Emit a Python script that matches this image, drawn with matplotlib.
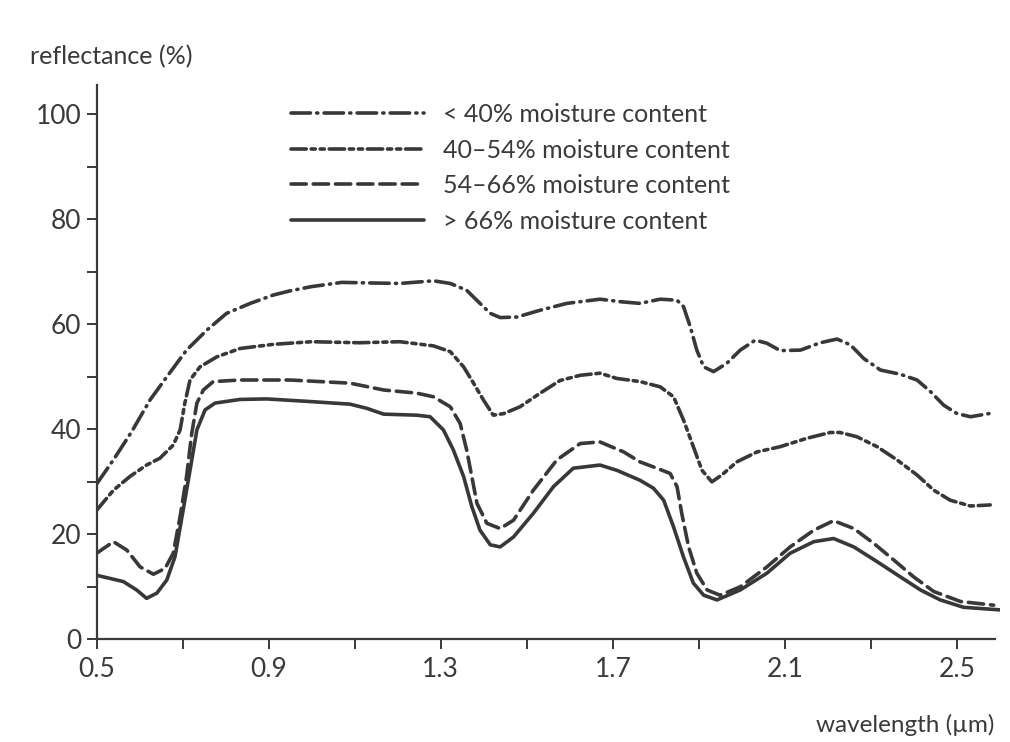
import matplotlib
matplotlib.use("Agg")
import matplotlib.pyplot as plt
from matplotlib.ticker import MultipleLocator, FixedLocator

plt.rcParams["font.family"] = ["Lato", "DejaVu Sans"]
plt.rcParams["lines.scale_dashes"] = False

INK = "#3a3a3a"

labels = [
    "< 40% moisture content",
    "40\u201354% moisture content",
    "54\u201366% moisture content",
    "> 66% moisture content",
]

# wavelength (um) / reflectance (%) for each moisture class
wl_dry = [0.50, 0.539, 0.581, 0.624, 0.663, 0.709, 0.756, 0.802, 0.857, 0.911,
          0.95, 1.00, 1.07, 1.13, 1.205, 1.283, 1.322, 1.36, 1.391, 1.415, 1.438,
          1.477, 1.531, 1.593, 1.67, 1.72, 1.763, 1.81, 1.849, 1.864, 1.88, 1.895,
          1.911, 1.934, 1.965, 1.996, 2.031, 2.058, 2.089, 2.136, 2.182, 2.221,
          2.252, 2.283, 2.322, 2.368, 2.407, 2.438, 2.469, 2.50, 2.531, 2.574]
refl_dry = [29.6, 34.2, 39.5, 45.6, 50.0, 55.1, 58.9, 62.1, 64.0, 65.6,
            66.4, 67.2, 68.0, 67.9, 67.8, 68.3, 67.8, 66.5, 64.0, 62.1, 61.3,
            61.4, 62.7, 64.0, 64.8, 64.3, 64.0, 64.8, 64.6, 63.4, 59.5, 55.1,
            51.9, 51.0, 52.6, 55.1, 57.0, 56.4, 55.0, 55.1, 56.5, 57.2,
            56.1, 53.5, 51.3, 50.5, 49.4, 47.2, 44.6, 43.0, 42.4, 43.0]

wl_low = [0.50, 0.539, 0.577, 0.616, 0.647, 0.678, 0.694, 0.705, 0.717, 0.74,
          0.779, 0.833, 0.911, 1.00, 1.11, 1.205, 1.283, 1.322, 1.353, 1.376,
          1.399, 1.422, 1.446, 1.484, 1.531, 1.577, 1.624, 1.67, 1.709, 1.763,
          1.81, 1.841, 1.864, 1.887, 1.907, 1.93, 1.953, 1.988, 2.035, 2.089,
          2.151, 2.205, 2.228, 2.267, 2.314, 2.36, 2.407, 2.446, 2.484, 2.531,
          2.577]
refl_low = [24.6, 28.4, 31.0, 33.2, 34.5, 37.0, 39.9, 45.0, 49.4, 51.9,
            53.8, 55.4, 56.2, 56.7, 56.5, 56.7, 55.9, 54.8, 51.9, 48.8,
            45.6, 42.7, 43.0, 44.3, 46.9, 49.3, 50.3, 50.7, 49.7, 49.1,
            48.1, 46.2, 41.8, 36.7, 32.2, 30.0, 31.3, 33.8, 35.7, 36.7,
            38.3, 39.4, 39.4, 38.6, 36.7, 34.2, 31.3, 28.4, 26.5, 25.4,
            25.6]

wl_mid = [0.50, 0.539, 0.57, 0.601, 0.632, 0.659, 0.678, 0.694, 0.709, 0.721,
          0.733, 0.748, 0.771, 0.833, 0.95, 1.089, 1.167, 1.244, 1.283, 1.322,
          1.345, 1.36, 1.372, 1.384, 1.407, 1.438, 1.469, 1.515, 1.57, 1.624,
          1.67, 1.725, 1.763, 1.802, 1.833, 1.849, 1.86, 1.876, 1.895, 1.919,
          1.949, 1.996, 2.058, 2.112, 2.167, 2.213, 2.26, 2.306, 2.353, 2.399,
          2.446, 2.508, 2.585]
refl_mid = [16.4, 18.6, 17.0, 13.8, 12.4, 13.5, 16.4, 23.4, 31.0, 39.2,
            45.0, 47.5, 49.1, 49.4, 49.4, 48.8, 47.5, 46.9, 46.2, 44.3,
            41.1, 36.1, 31.0, 25.9, 22.1, 21.1, 22.7, 28.4, 34.2, 37.3,
            37.6, 35.7, 33.8, 32.6, 31.6, 29.1, 24.0, 17.6, 12.6, 9.4,
            8.4, 10.0, 13.8, 17.6, 20.8, 22.6, 21.1, 18.3, 15.1, 11.9,
            9.1, 7.2, 6.5]

wl_wet = [0.50, 0.562, 0.593, 0.616, 0.64, 0.663, 0.682, 0.701, 0.717, 0.733,
          0.752, 0.775, 0.833, 0.895, 0.996, 1.089, 1.128, 1.167, 1.244, 1.275,
          1.306, 1.329, 1.353, 1.372, 1.391, 1.415, 1.438, 1.469, 1.515, 1.562,
          1.608, 1.67, 1.709, 1.763, 1.794, 1.818, 1.841, 1.864, 1.887, 1.911,
          1.942, 1.996, 2.058, 2.112, 2.167, 2.213, 2.26, 2.314, 2.368, 2.415,
          2.461, 2.515, 2.601]
refl_wet = [12.2, 11.0, 9.4, 7.8, 8.8, 11.3, 15.7, 24.6, 32.2, 39.9,
            43.7, 45.0, 45.7, 45.8, 45.3, 44.8, 44.0, 42.9, 42.7, 42.4,
            39.9, 36.1, 31.0, 25.3, 20.8, 18.0, 17.6, 19.5, 24.0, 29.1,
            32.6, 33.2, 32.2, 30.3, 28.8, 26.5, 21.4, 15.7, 10.7, 8.4,
            7.5, 9.4, 12.6, 16.4, 18.6, 19.2, 17.6, 14.8, 11.9, 9.4,
            7.5, 6.1, 5.6]

fig = plt.figure(figsize=(10.1, 7.42), dpi=100)
ax = fig.add_axes([0.0957, 0.1384, 0.8945, 0.747])

line_kw = dict(color="#383838", lw=2.6, solid_capstyle="round",
               dash_capstyle="round", solid_joinstyle="round")
ax.plot(wl_dry, refl_dry, dashes=(14, 4.5, 0.8, 4.5), label=labels[0], **line_kw)
ax.plot(wl_low, refl_low, dashes=(11, 3.5, 3, 3.5, 3, 3.5), label=labels[1], **line_kw)
ax.plot(wl_mid, refl_mid, dashes=(11, 5), label=labels[2], **line_kw)
ax.plot(wl_wet, refl_wet, label=labels[3], **line_kw)

ax.set_xlim(0.5, 2.6)
ax.set_ylim(0, 105.6)
ax.spines["bottom"].set_bounds(0.5, 2.589)
for side in ("top", "right"):
    ax.spines[side].set_visible(False)
for side in ("left", "bottom"):
    ax.spines[side].set_linewidth(1.6)
    ax.spines[side].set_color(INK)

ax.xaxis.set_major_locator(FixedLocator([0.5, 0.9, 1.3, 1.7, 2.1, 2.5]))
ax.xaxis.set_minor_locator(FixedLocator([0.7, 1.1, 1.5, 1.9, 2.3]))
ax.yaxis.set_major_locator(MultipleLocator(20))
ax.yaxis.set_minor_locator(MultipleLocator(10))
ax.set_xticklabels(["0.5", "0.9", "1.3", "1.7", "2.1", "2.5"])
ax.tick_params(which="both", direction="out", length=7, width=1.4, color=INK,
               labelsize=19, labelcolor=INK)
ax.tick_params(axis="y", pad=4)
ax.tick_params(axis="x", pad=6)

ax.legend(loc="upper left", bbox_to_anchor=(0.1905, 1.008), frameon=False,
          handlelength=5.3, handletextpad=0.75, labelspacing=0.5,
          fontsize=18, labelcolor=INK)

fig.text(0.030, 0.914, "reflectance (%)", fontsize=18, color=INK)
fig.text(0.985, 0.014, "wavelength (\u00b5m)", fontsize=17.5, color=INK, ha="right")

fig.savefig("out.png", dpi=100, facecolor="white")
